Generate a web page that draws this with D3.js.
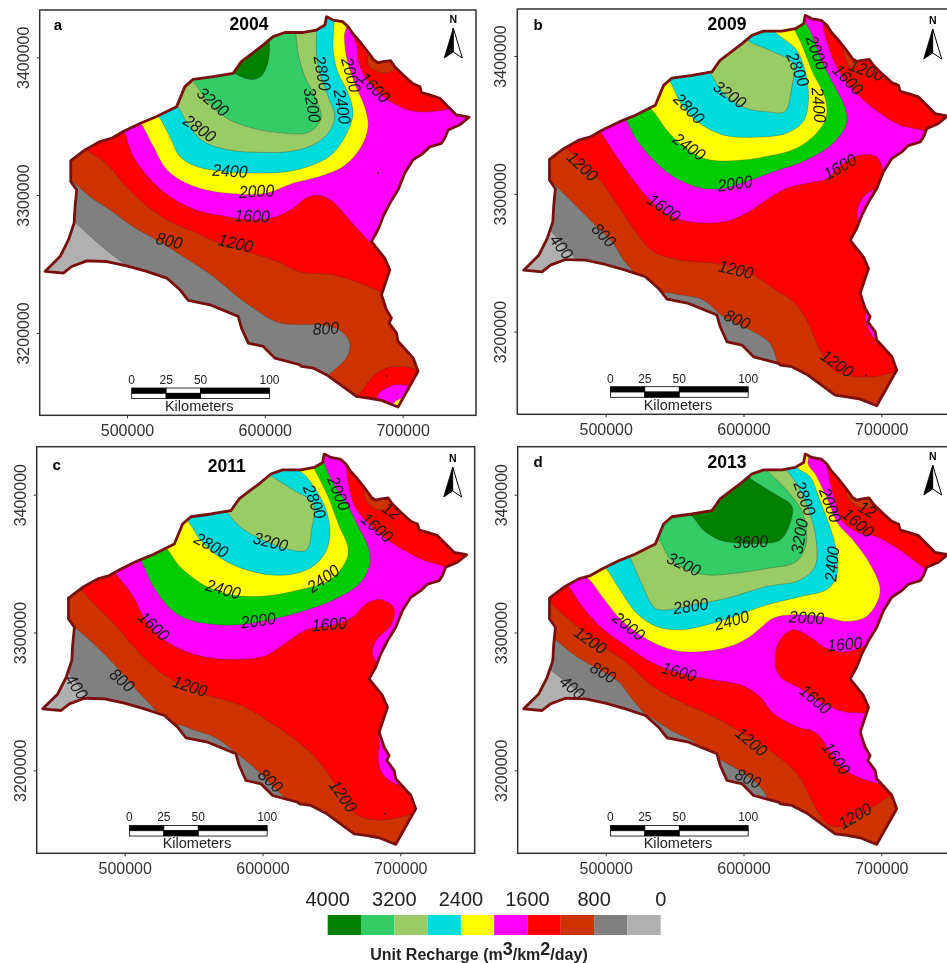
<!DOCTYPE html>
<html>
<head>
<meta charset="utf-8">
<script src="https://cdn.jsdelivr.net/npm/d3@7"></script>
<style>
  html, body { margin: 0; padding: 0; background: #fff; overflow: hidden; }
  svg { display: block; filter: blur(0.45px); }
  text { font-family: "Liberation Sans", Arial, sans-serif; }
</style>
</head>
<body>
<div id="chart"></div>
<script>
// all map coordinates are [easting km, northing km]
const years = [2004, 2009, 2011, 2013];
const letters = ["a", "b", "c", "d"];
const eastTicks = [500, 600, 700];
const northTicks = [3400, 3300, 3200];
const scaleBarKm = [0, 25, 50, 100];

const legendBreaks = [4000, 3600, 3200, 2800, 2400, 2000, 1600, 1200, 800, 400, 0];
const legendTicks = [4000, 3200, 2400, 1600, 800, 0];
const legendColors = ["dark", "mid", "light", "cyan", "yellow", "magenta", "red", "brown", "gray", "pale"];

const colorNames = ["dark", "mid", "light", "cyan", "yellow", "magenta", "red", "brown", "gray", "pale", "green"];
const colorValues = ["#008000", "#33cc66", "#99cc66", "#00dcdc", "#ffff00", "#ff00ff", "#ff0000", "#cc3300", "#808080", "#b0b0b0", "#00cc00"];

const boundary = [
  [644.8,3429.5],[649.6,3427],[656.4,3425.9],[660.5,3422.2],[664.1,3416.9],[669,3411.4],[673.8,3405.3],[677.4,3400.5],
  [679.1,3398],[682.2,3396.1],[685.9,3396.9],[691.2,3397.6],[694.3,3393.2],[700.4,3387.2],[707.6,3380.7],[712.5,3378.7],
  [713.7,3374.4],[719.7,3372.7],[727,3370.3],[733,3364.2],[739,3358.2],[748.2,3356.5],[741.5,3351],[733,3347.3],
  [730.6,3341.3],[728.2,3337.6],[719.7,3335],[714.9,3330.4],[707.6,3325.6],[701.6,3316],[696.7,3303.8],[690.7,3294],
  [685.9,3284.5],[682.2,3275],[677.4,3266.3],[682.2,3260.3],[687,3254.3],[690.7,3245.8],[684.7,3227.7],[688.3,3216.8],
  [691.9,3210.8],[690.2,3207.1],[695.5,3200],[696.7,3193.9],[707.6,3181.9],[711.2,3172.1],[696.7,3146.2],[684.7,3151],
  [675,3152.7],[666.5,3153.9],[646,3168.9],[635.1,3174.5],[626.7,3175.7],[625.4,3176.9],[607.3,3181.7],[598.9,3190.2],
  [588,3192.6],[583.1,3203.5],[580.7,3212],[560.2,3220.4],[544.5,3223.6],[538.4,3231.3],[528.8,3239.8],[514.3,3244.6],
  [499.8,3248.7],[485.3,3251.8],[470.8,3252.3],[459.9,3248.2],[453.8,3243.4],[440.5,3244.6],[451.4,3255.4],[457.5,3267.5],
  [461.6,3279.6],[462.3,3291.7],[463.5,3303.8],[459.2,3309.8],[459.2,3325],[469.5,3332.8],[480.4,3338.9],[488.9,3341.3],
  [497.3,3346.1],[509.4,3352],[521.5,3357],[536,3364.2],[542,3378.7],[548,3384],[562.6,3386],[577,3388.4],
  [583,3396.9],[598.9,3409],[606,3415],[614.6,3418],[627.9,3418],[637.5,3419.8],[643.6,3423.4]
];

// zones are painted in order, each one covers the higher side of its contour
const zones2004 = [
  ["gray", [[456,3286],[461.6,3281],[480.4,3264],[501,3248],[506,3244.6],[553,3127],[770,3127],[770,3442],[430,3442],[432,3306]]],
  ["brown", [[456,3313.5],[461.6,3309],[473,3299],[488,3289],[504.6,3277],[524,3266],[543,3254],[562.6,3241],[577,3229],[591.6,3218],[608.5,3208],[625.4,3206],[640,3206],[654.4,3202],[661.7,3192.6],[659.3,3182],[646,3169],[643.6,3165],[680,3127],[770,3127],[770,3442],[430,3442],[430,3330]]],
  ["red", [[466,3336.4],[472,3331.6],[485,3323],[497.3,3308.6],[512,3294],[529,3282],[548,3273.6],[567.4,3265],[586.8,3259],[608.5,3252],[626.6,3244],[649.6,3242],[669,3236],[686,3229],[698,3224],[770,3224],[770,3442],[430,3442],[430,3345]]],
  ["magenta", [[498.5,3345],[504.6,3328],[516.7,3311.6],[531,3299],[550.5,3289],[572.3,3284.5],[591.6,3282],[608.5,3284.5],[620.6,3290.5],[630.3,3298],[640,3299.7],[649.6,3295],[659.3,3284.5],[669,3273.6],[678,3265.6],[698,3272],[770,3272],[770,3442],[490,3442],[496,3352]]],
  ["yellow", [[507.5,3354],[510.6,3351],[519,3335.4],[528.8,3318.4],[543,3308.6],[562.6,3302.6],[582,3300.7],[601.3,3301.4],[620.6,3308.6],[640,3313.5],[657,3320.7],[670,3335],[675,3349.7],[672.6,3364],[665.3,3381],[659.3,3400.5],[658,3417.4],[660.5,3424.6],[660,3435],[500,3435],[495,3358]]],
  ["cyan", [[520,3359.4],[523,3357],[531,3342.5],[538.4,3328],[550.5,3320.7],[572.3,3317],[591.6,3316],[615.8,3317],[635,3322],[649.6,3330.4],[660.5,3347],[664,3359.4],[660.5,3374],[653.2,3388.4],[649.6,3405.3],[650.3,3427],[650,3435],[510,3435],[515,3365]]],
  ["light", [[533.6,3368],[536.7,3364.7],[544.5,3351],[555.3,3339],[572.3,3333],[596.4,3331],[618,3331.6],[635,3336.4],[646,3345],[650.8,3357],[646,3371.5],[640,3388.4],[637.5,3403],[637.5,3421],[637,3435],[525,3435],[525,3375]]],
  ["mid", [[547,3383.6],[549.3,3381],[557.8,3369],[572.3,3355.8],[591.6,3348.5],[613.4,3345],[630.3,3345],[637.5,3349.7],[641,3357],[636.3,3371.5],[629,3386],[624.2,3403],[622.5,3418.6],[622,3432],[540,3432],[535,3395]]],
  ["dark", [[576,3389],[578.3,3388],[589,3384],[596.4,3385.5],[601.3,3393],[603.2,3401.7],[603.2,3412.6],[600,3425],[570,3410],[568,3392]]],
  ["red", [[664,3418.6],[667,3407.7],[667.7,3398],[672.6,3386],[681,3376],[693,3366.6],[707.6,3361],[722,3360.6],[735.4,3363],[760,3370],[720,3430],[670,3435]]],
  ["brown", [[674.5,3399],[676.2,3393],[683.4,3389],[690.7,3389],[694.8,3392],[700,3405],[680,3410]]],
  ["red", [[666.5,3151.5],[671.4,3159],[678.6,3168.5],[688.3,3174.5],[698,3175.7],[706.4,3174.5],[713,3170],[725,3140],[670,3130]]],
  ["magenta", [[682.2,3155],[688.3,3160],[696.7,3162.4],[706.4,3160],[715,3140],[685,3140]]],
  ["yellow", [[693,3148.6],[696.7,3151.5],[700.4,3152.3],[705,3140],[690,3140]]]
];

const zones2009 = [
  ["gray", [[458.4,3276],[459.6,3274],[469.3,3263],[480,3251],[483.8,3247],[500,3127],[770,3127],[770,3442],[430,3442],[430,3300]]],
  ["brown", [[457.2,3312.5],[460.8,3309],[471.7,3298],[491,3278.7],[505.6,3264],[512.8,3252],[520,3243.6],[523.7,3236],[537,3226.7],[541.8,3228.4],[554,3226.7],[570.8,3223],[585.3,3211],[607,3200],[619,3191.7],[624.7,3177],[625.4,3172],[650,3127],[770,3127],[770,3442],[430,3442],[430,3330]]],
  ["red", [[468,3336.7],[473,3332],[481.4,3322],[493.5,3312.5],[508,3293],[522.5,3271.4],[534.6,3258],[554,3252],[578,3249.7],[602,3243.6],[621.6,3231.5],[638.5,3219.5],[648,3203.7],[655.4,3186.8],[665,3172.3],[679.6,3167.5],[696.5,3167.5],[711,3171],[717.3,3173],[770,3173],[770,3442],[430,3442],[430,3345]]],
  ["magenta", [[492,3348.8],[495.9,3345],[508,3327],[520,3310],[534.6,3293],[551.5,3282],[568.4,3279],[587.7,3280],[602.2,3286],[616.7,3295.6],[631.2,3304],[648,3308],[660.2,3311],[672.3,3322],[684.4,3328],[696.5,3327],[701.3,3317.3],[702.5,3313.7],[720,3310],[770,3310],[770,3442],[490,3442],[490,3352]]],
  ["magenta", [[692,3301.6],[685.6,3295.6],[682.5,3286],[685.6,3277.4],[705,3280],[705,3305]]],
  ["magenta", [[688.8,3213.4],[690.5,3202.5],[696.5,3194],[705,3195],[700,3215]]],
  ["green", [[511.6,3357],[514,3354.8],[522.5,3339],[534.6,3324.6],[549,3312.5],[566,3305],[583,3303.6],[602,3309],[621.6,3316],[645.7,3324.6],[665,3336.7],[674.7,3351],[673.5,3363],[665,3380],[655.4,3399.5],[649.4,3416],[644.5,3426],[645,3436],[500,3436],[505,3358]]],
  ["yellow", [[531,3362],[533.4,3361],[544.2,3346.3],[556.3,3334.3],[573.2,3325],[592.6,3324],[616.7,3327],[638.5,3333],[653,3344],[660.2,3356],[659,3370.5],[650.6,3387.4],[642,3409],[636.6,3421],[636,3435],[520,3435],[522,3367]]],
  ["cyan", [[544.2,3383.8],[546.6,3381.4],[556.3,3363],[568.4,3351],[585.3,3342.7],[607,3341],[631.2,3344],[643.3,3352.4],[647,3365.7],[645.7,3385],[638.5,3404.4],[624,3416.4],[620.6,3421],[620,3435],[535,3435],[535,3390]]],
  ["light", [[575.6,3388],[576.9,3386],[585.3,3373],[602.2,3362],[616.7,3359.6],[630,3359.6],[634.9,3376.6],[636,3394.7],[621.6,3403],[604.7,3410.4],[601.3,3413.8],[590,3420],[570,3395]]],
  ["red", [[657.8,3422.5],[660.2,3411.6],[666.3,3394.7],[673.5,3382.6],[684.4,3370.5],[699,3358.4],[713.4,3350],[729,3346.3],[733,3345],[770,3345],[770,3442],[660,3442]]],
  ["brown", [[672.8,3405.6],[674.3,3397],[678.4,3391],[683.2,3393.5],[685,3405],[680,3412]]]
];

const zones2011 = [
  ["gray", [[458,3271.7],[460.4,3269],[473,3253.5],[476.7,3249.4],[500,3127],[770,3127],[770,3442],[430,3442],[430,3300]]],
  ["brown", [[459.4,3307.4],[464.7,3303],[477.3,3292],[494.2,3275],[506.3,3260.8],[523.2,3242.6],[526.8,3237.3],[536,3229],[537.7,3233],[549.8,3229.4],[566.7,3223.3],[581.2,3212.4],[595.7,3200.4],[607.8,3188],[617,3179],[620.6,3173],[650,3127],[770,3127],[770,3442],[430,3442],[430,3330]]],
  ["red", [[466.4,3333],[468.8,3330.4],[479.7,3318.8],[491.8,3306.7],[511,3285],[530.5,3268],[559.5,3254.7],[583.6,3247.5],[610.2,3231.8],[636.8,3211],[648.9,3195.5],[661,3176],[670.6,3166.5],[687.6,3164],[711.7,3169],[718.5,3171],[770,3171],[770,3442],[430,3442],[430,3345]]],
  ["magenta", [[490.6,3346.6],[494.2,3341.8],[506.3,3326],[513.5,3311.5],[525.6,3297],[545,3286],[564.3,3281.3],[583.6,3280.6],[600.5,3282.5],[615,3291],[632,3302],[651.3,3305.5],[665.8,3311.5],[675.5,3321],[685,3324],[693.6,3320],[696,3314],[692.4,3304.3],[682.7,3294.6],[679.8,3285],[684,3276.5],[688.3,3272.4],[770,3272],[770,3442],[490,3442]]],
  ["magenta", [[685,3218.5],[684,3207.6],[687.6,3196.7],[697.2,3190],[710,3190],[700,3225],[685,3228]]],
  ["green", [[509.2,3355],[512.3,3351.4],[520.8,3333.3],[534,3316.4],[547.4,3309],[569,3305.5],[586,3306],[610.2,3310.3],[632,3316.4],[651.3,3323.6],[670.6,3335.7],[677.9,3350],[676.7,3362],[669.4,3376.8],[661,3393.7],[651.3,3408],[645.3,3421.5],[643.6,3427],[643,3436],[500,3436],[500,3360]]],
  ["yellow", [[528,3362.8],[531.2,3359.9],[540.1,3347.8],[559.5,3333.3],[578.8,3327],[603,3326.5],[627,3331],[648.9,3338],[661,3352.6],[662,3362],[655,3379],[647.7,3398.5],[638,3418],[635,3423.4],[635,3435],[520,3435],[520,3370]]],
  ["cyan", [[543,3383.6],[546.2,3380.4],[557,3364.7],[574,3351.4],[598,3343],[617.5,3341.8],[634.4,3346.6],[645.3,3357.5],[649,3372],[645.3,3391.3],[632,3413],[626,3418],[621.8,3422],[620,3435],[535,3435],[535,3392]]],
  ["light", [[572.8,3388.4],[575.2,3386],[583.6,3376.8],[600.5,3367],[620,3360],[632,3360],[635.6,3374.4],[636.8,3393.7],[622.3,3403.4],[607.8,3412.6],[602.5,3416],[590,3422],[568,3396]]],
  ["red", [[661,3421.5],[662.7,3405.8],[667,3391.3],[675.5,3380.4],[687.6,3369.5],[702,3360],[716.6,3352.6],[731,3348.3],[734,3346.8],[770,3346],[770,3442],[665,3442]]],
  ["brown", [[673.8,3403],[675.5,3395],[681.5,3390],[687.6,3389],[691.2,3391.3],[695,3402],[680,3410]]]
];

const zones2013 = [
  ["gray", [[457.2,3276.5],[459.6,3273.4],[473,3263],[485,3252.3],[489,3248],[500,3127],[770,3127],[770,3442],[430,3442],[430,3300]]],
  ["brown", [[460.8,3297.5],[464,3294.6],[479,3282.5],[496,3272.7],[509.3,3264.4],[517.7,3253.5],[529.7,3240],[533.6,3237.8],[546.6,3229.4],[563.6,3220.9],[569.8,3215.6],[573.5,3212],[582.9,3207.6],[599.8,3198],[611.9,3188.3],[618,3179],[620.6,3173],[650,3127],[770,3127],[770,3442],[430,3442],[430,3330]]],
  ["red", [[457.2,3324],[460,3321],[474,3309],[491,3294.6],[512.8,3280],[534.6,3260.8],[553.9,3250],[578,3239],[597.4,3228],[621.6,3212.4],[638.5,3198],[650.6,3176],[660.2,3161.7],[671,3159.3],[686.8,3169],[706.2,3181.5],[712.5,3185.4],[770,3185],[770,3442],[430,3442],[430,3345]]],
  ["magenta", [[469.3,3337],[473,3333.3],[481.4,3321],[495.9,3304.3],[515.2,3290],[534.6,3277.7],[553.9,3270.4],[578,3265.6],[597.4,3262],[611.9,3253.5],[621.6,3241.4],[638.5,3231.8],[653,3227],[665,3210],[677.2,3198],[696.5,3190.7],[702.8,3190],[770,3190],[770,3442],[430,3442],[430,3350]]],
  ["red", [[622.8,3280],[626.4,3294.6],[636,3302],[648,3297],[660.2,3288.6],[674.7,3286],[691.7,3292],[695.5,3294],[705,3270],[700,3241],[689.2,3241.4],[672.3,3242.7],[657.8,3248.7],[641,3259.6],[626.4,3268]]],
  ["yellow", [[484.3,3341],[488.4,3338],[499.2,3323.6],[511.3,3309],[530.7,3294.6],[550,3287],[568.4,3286],[590,3289.8],[604.7,3297],[621.6,3310.3],[633.7,3312.7],[657.8,3311.5],[674.7,3308],[689.2,3311.5],[697.7,3323.6],[699,3333],[691.7,3350],[679.6,3367],[668.7,3379],[660.2,3398.5],[651.8,3415.5],[647,3422],[647,3436],[480,3436],[480,3348]]],
  ["cyan", [[497,3349.7],[500.2,3346.6],[510.4,3331],[522.5,3314],[537,3304.3],[553.9,3302],[573.2,3305.5],[592.6,3311.5],[616.7,3320],[640.9,3326],[660.2,3331],[666.3,3338],[668.7,3350],[665,3369.5],[655.4,3396],[648.2,3413],[639.7,3419],[636.3,3423.4],[636,3435],[490,3435],[490,3355]]],
  ["light", [[514,3358.7],[517.2,3355],[524.9,3338],[535.8,3317.6],[544.2,3316.4],[563.6,3320],[587.7,3324.8],[616.7,3333.3],[640.9,3338],[651.8,3347.8],[653,3364.7],[648.2,3386.5],[638.5,3408],[631.2,3418],[626.6,3423.4],[625,3435],[525,3435],[525,3370]]],
  ["mid", [[535.8,3370],[539,3367],[547.5,3352.6],[559.6,3345.4],[574.2,3341.7],[593.6,3343],[617.7,3346.6],[638.2,3351.4],[645.5,3364.7],[643,3386.5],[631.2,3403.4],[618,3416.7],[614.6,3421],[612,3435],[535,3435],[535,3385]]],
  ["dark", [[561,3386],[563.6,3383.6],[570.8,3374.4],[583,3367],[599.8,3364.7],[614.3,3364.7],[626.4,3367],[632.4,3375.6],[635.3,3391.3],[624,3399.8],[605.9,3411],[601.3,3415],[585,3420],[565,3395]]],
  ["red", [[661.5,3415.5],[666.3,3396],[671,3381.6],[682,3373],[696.5,3369.5],[713.4,3359.9],[729,3348.3],[734,3345],[770,3345],[770,3442],[660,3442]]],
  ["brown", [[674.7,3403],[676,3397.3],[680.8,3392.5],[686.8,3390],[692.9,3391.3],[695,3402],[680,3410]]]
];

// contour labels: text, easting, northing, angle
const labels2004 = [
  ["3200",562.6,3367.9,40],["2800",552.9,3348.5,35],["2400",574.7,3317.8,3],["2000",594,3303,-3],["1600",590.9,3285,2],
  ["1200",579,3265.3,13],["800",530.7,3267,13],["800",644.3,3203.5,-3],["2800",641.9,3388.4,80],["3200",634.6,3365.4,80],
  ["2400",656.4,3364.2,80],["2000",662.9,3387.2,75],["1600",679.8,3378.2,45]
];
const labels2009 = [
  ["2000",653.5,3402.4,70],["2800",639.7,3390.3,68],["1600",676,3383,45],["1200",689.2,3389.8,20],["2400",654.9,3364.5,85],
  ["3200",590.2,3372.2,35],["2800",560.7,3362,45],["2400",560.7,3334.3,35],["2000",593.8,3307.7,-8],["1600",669.9,3319.8,-30],
  ["1600",542.5,3290,35],["1200",483.3,3320.2,43],["800",498.8,3270.2,45],["400",468,3261.7,52],["1200",594.5,3245.3,13],
  ["800",595.5,3209,25],["1200",668,3177,35]
];
const labels2011 = [
  ["2800",638,3395,68],["2000",655.7,3401,68],["1600",683.2,3376.3,40],["12",693.8,3388.4,35],["3200",605.9,3366,15],
  ["2800",563,3363.5,28],["2400",571.5,3331.6,15],["2400",644,3339.3,-35],["2000",596.9,3309,-8],["1600",648.4,3306.2,-5],
  ["1600",521.3,3304.8,42],["1200",547.4,3261.3,18],["800",498.3,3265.6,40],["400",465.2,3260.8,55],["800",605.9,3192.6,42],
  ["1200",658.6,3181.5,55]
];
const labels2013 = [
  ["2800",644.6,3397.4,70],["2000",663.1,3392.5,70],["1600",683.2,3379.7,40],["12",689.9,3389.4,30],["3600",605.1,3366,-2],
  ["3200",640.5,3370,-80],["3200",556.8,3349.7,25],["2800",561.6,3319.5,-8],["2400",591.4,3309,-15],["2400",663.9,3349.7,-85],
  ["2000",645.7,3311,3],["1600",673.5,3291.7,-5],["2000",516.9,3304.8,38],["1600",553.2,3271.7,15],["1200",489,3294.6,35],
  ["800",498.3,3271.2,30],["400",475.8,3260.3,40],["1600",652.3,3251.6,40],["1600",667.5,3208.8,55],["1200",605.9,3220.9,40],
  ["800",603.4,3194.3,25],["1200",680.8,3167,-30]
];

// stray specks left in the original map
const specks2004 = [[688.5,3168.7],[682,3316]];
const specks2009 = [[688.8,3168.3]];
const specks2011 = [[688.9,3168.3]];
const specks2013 = [];

const allZones = [zones2004, zones2009, zones2011, zones2013];
const allLabels = [labels2004, labels2009, labels2011, labels2013];
const allSpecks = [specks2004, specks2009, specks2011, specks2013];

const width = 947, height = 963;
const pxPerKm = 1.378;

// pixel frame of each map, x500 and y3400 are where those gridlines fall
const frames = [
  { left: 39.7, right: 476, top: 10, bottom: 415.3, x500: 127, y3400: 57.3, yearX: 249, yearY: 30, letterX: 58, letterY: 30, arrowX: 453.3, arrowY: 28 },
  { left: 517.3, right: 955, top: 9, bottom: 414.3, x500: 605.7, y3400: 56, yearX: 727, yearY: 30, letterX: 538, letterY: 30, arrowX: 932.7, arrowY: 29 },
  { left: 36.7, right: 474.7, top: 446.7, bottom: 853.3, x500: 124.7, y3400: 494.7, yearX: 226.7, yearY: 472, letterX: 56.7, letterY: 470, arrowX: 452.7, arrowY: 467 },
  { left: 517.7, right: 955, top: 446.7, bottom: 853.3, x500: 605.7, y3400: 494.7, yearX: 727, yearY: 468, letterX: 538, letterY: 467, arrowX: 932.7, arrowY: 465 }
];

const zoneColor = d3.scaleOrdinal(colorNames, colorValues);

const svg = d3.select("#chart").append("svg")
  .attr("width", width)
  .attr("height", height);

years.forEach((year, i) => drawPanel(i));
drawLegend();

function drawPanel(i) {
  const f = frames[i];
  const x = d3.scaleLinear().domain([500, 700]).range([f.x500, f.x500 + 200 * pxPerKm]);
  const y = d3.scaleLinear().domain([3400, 3200]).range([f.y3400, f.y3400 + 200 * pxPerKm]);

  const g = svg.append("g");
  const clipId = "map-clip-" + i;

  const outline = d3.line().x(d => x(d[0])).y(d => y(d[1])).curve(d3.curveLinearClosed);
  const smooth = d3.line().x(d => x(d[0])).y(d => y(d[1])).curve(d3.curveCatmullRomClosed.alpha(0.5));

  g.append("clipPath").attr("id", clipId).append("path").attr("d", outline(boundary));

  const map = g.append("g").attr("clip-path", `url(#${clipId})`);

  map.append("path")
    .attr("d", outline(boundary))
    .attr("fill", zoneColor("pale"));

  map.selectAll("path.zone")
    .data(allZones[i])
    .join("path")
    .attr("class", "zone")
    .attr("d", d => smooth(d[1]))
    .attr("fill", d => zoneColor(d[0]))
    .attr("stroke", "#333")
    .attr("stroke-opacity", 0.45)
    .attr("stroke-width", 0.7);

  map.selectAll("circle.speck")
    .data(allSpecks[i])
    .join("circle")
    .attr("class", "speck")
    .attr("cx", d => x(d[0]))
    .attr("cy", d => y(d[1]))
    .attr("r", 0.9)
    .attr("fill", "#400");

  map.selectAll("text.contour")
    .data(allLabels[i])
    .join("text")
    .attr("class", "contour")
    .attr("transform", d => `translate(${x(d[1])},${y(d[2])}) rotate(${d[3]}) scale(0.93,1)`)
    .attr("text-anchor", "middle")
    .attr("dy", "0.36em")
    .attr("font-size", 17)
    .attr("font-style", "italic")
    .attr("fill", "#1a1a1a")
    .text(d => d[0]);

  g.append("path")
    .attr("d", outline(boundary))
    .attr("fill", "none")
    .attr("stroke", "#7a0f0f")
    .attr("stroke-width", 2.8)
    .attr("stroke-linejoin", "round");

  g.append("rect")
    .attr("x", f.left)
    .attr("y", f.top)
    .attr("width", f.right - f.left)
    .attr("height", f.bottom - f.top)
    .attr("fill", "none")
    .attr("stroke", "#333")
    .attr("stroke-width", 1.5);

  const xAxis = d3.axisBottom(x).tickValues(eastTicks).tickSize(3).tickPadding(6).tickFormat(d => d * 1000);
  const yAxis = d3.axisLeft(y).tickValues(northTicks).tickSize(3).tickPadding(7).tickFormat(d => d * 1000);

  const xg = g.append("g").attr("transform", `translate(0,${f.bottom})`).call(xAxis);
  xg.select(".domain").remove();
  xg.selectAll("text").attr("font-size", 16).attr("font-family", "Liberation Sans").attr("fill", "#333");
  xg.selectAll("line").attr("stroke", "#333");

  const yg = g.append("g").attr("transform", `translate(${f.left},0)`).call(yAxis);
  yg.select(".domain").remove();
  yg.selectAll("line").attr("stroke", "#333");
  yg.selectAll("text")
    .attr("font-size", 16)
    .attr("font-family", "Liberation Sans")
    .attr("fill", "#333")
    .attr("x", 0)
    .attr("dy", 0)
    .attr("text-anchor", "middle")
    .attr("transform", "translate(-11,0) rotate(-90)");

  g.append("text")
    .attr("x", f.letterX).attr("y", f.letterY)
    .attr("text-anchor", "middle")
    .attr("font-size", 15).attr("font-weight", "bold")
    .text(letters[i]);

  g.append("text")
    .attr("x", f.yearX).attr("y", f.yearY)
    .attr("text-anchor", "middle")
    .attr("font-size", 17.5).attr("font-weight", "bold")
    .text(years[i]);

  drawNorthArrow(g, f.arrowX, f.arrowY);
  drawScaleBar(g, x, y);
}

function drawNorthArrow(g, cx, top) {
  g.append("text")
    .attr("x", cx).attr("y", top - 5)
    .attr("text-anchor", "middle")
    .attr("font-size", 10.5).attr("font-weight", "bold")
    .text("N");
  g.append("path")
    .attr("d", `M${cx},${top} L${cx - 9},${top + 30} L${cx},${top + 24} Z`)
    .attr("fill", "#000").attr("stroke", "#000").attr("stroke-width", 0.8);
  g.append("path")
    .attr("d", `M${cx},${top} L${cx + 9},${top + 30} L${cx},${top + 24} Z`)
    .attr("fill", "#fff").attr("stroke", "#000").attr("stroke-width", 1);
}

function drawScaleBar(g, x, y) {
  const x0 = 503.4;
  const top = y(3160);
  const barH = 5.3;
  const spans = d3.pairs(scaleBarKm);

  spans.forEach((s, k) => {
    g.append("rect")
      .attr("x", x(x0 + s[0]))
      .attr("y", top)
      .attr("width", x(x0 + s[1]) - x(x0 + s[0]))
      .attr("height", barH)
      .attr("fill", k % 2 ? "#fff" : "#000")
      .attr("stroke", "#000").attr("stroke-width", 0.8);
    g.append("rect")
      .attr("x", x(x0 + s[0]))
      .attr("y", top + barH)
      .attr("width", x(x0 + s[1]) - x(x0 + s[0]))
      .attr("height", barH)
      .attr("fill", k % 2 ? "#000" : "#fff")
      .attr("stroke", "#000").attr("stroke-width", 0.8);
  });

  g.selectAll(null)
    .data(scaleBarKm)
    .join("text")
    .attr("x", d => x(x0 + d))
    .attr("y", top - 4)
    .attr("text-anchor", "middle")
    .attr("font-size", 12)
    .attr("fill", "#222")
    .text(d => d);

  g.append("text")
    .attr("x", x(x0 + 49))
    .attr("y", top + 23)
    .attr("text-anchor", "middle")
    .attr("font-size", 14.5)
    .attr("fill", "#222")
    .text("Kilometers");
}

function drawLegend() {
  const lx = d3.scaleLinear().domain([4000, 0]).range([327.7, 660.7]);
  const g = svg.append("g");

  g.selectAll("rect")
    .data(legendColors)
    .join("rect")
    .attr("x", (d, i) => lx(legendBreaks[i]))
    .attr("y", 915)
    .attr("width", (d, i) => lx(legendBreaks[i + 1]) - lx(legendBreaks[i]))
    .attr("height", 20)
    .attr("fill", d => zoneColor(d));

  g.selectAll("text.tick")
    .data(legendTicks)
    .join("text")
    .attr("class", "tick")
    .attr("x", d => lx(d))
    .attr("y", 906)
    .attr("text-anchor", "middle")
    .attr("font-size", 20)
    .attr("fill", "#222")
    .text(d => d);

  const title = g.append("text")
    .attr("x", 479)
    .attr("y", 960)
    .attr("text-anchor", "middle")
    .attr("font-size", 16)
    .attr("font-weight", "bold")
    .attr("fill", "#222");
  title.append("tspan").text("Unit Recharge (m");
  title.append("tspan").attr("dy", -5).attr("font-size", 18).text("3");
  title.append("tspan").attr("dy", 5).text("/km");
  title.append("tspan").attr("dy", -5).attr("font-size", 18).text("2");
  title.append("tspan").attr("dy", 5).text("/day)");
}
</script>
</body>
</html>
